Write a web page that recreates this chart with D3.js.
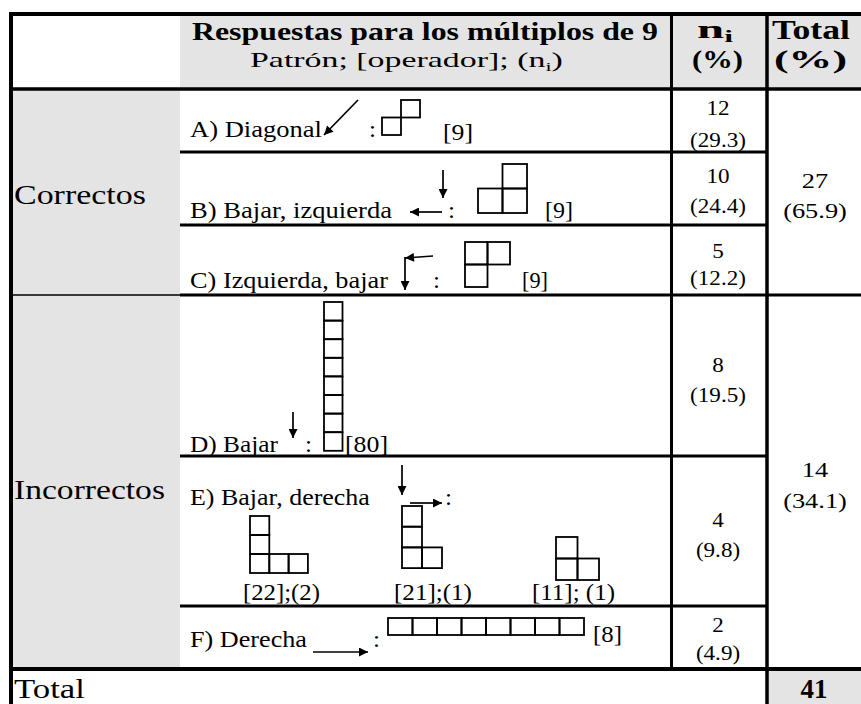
<!DOCTYPE html>
<html><head><meta charset="utf-8">
<script src="https://cdn.jsdelivr.net/npm/d3@7"></script>
<style>html,body{margin:0;padding:0;background:#fff;} svg{display:block;}</style>
</head><body><svg id="chart" width="861" height="704"></svg>
<script>
// ---------------- DATA ----------------
const headerTitle = "Respuestas para los múltiplos de 9";
const headerSub = ["Patrón; [operador]; (n", "i", ")"];
const headerN = ["n", "i"];
const headerPct = "(%)";
const headerTotal = "Total";
const groups = ["Correctos", "Incorrectos"];
const groupCounts = [27, 14];
const groupPercents = [65.9, 34.1];
const responses = ["A) Diagonal", "B) Bajar, izquierda", "C) Izquierda, bajar", "D) Bajar", "E) Bajar, derecha", "F) Derecha"];
const operators = ["[9]", "[9]", "[9]", "[80]", "", "[8]"];
const counts = [12, 10, 5, 8, 4, 2];
const percents = [29.3, 24.4, 12.2, 19.5, 9.8, 4.9];
const eVariantLabels = ["[22];(2)", "[21];(1)", "[11]; (1)"];
const totalLabel = "Total";
const grandTotal = 41;
// patterns (grid cells [col,row])
const patternA = [[0,1],[1,0]];
const patternB = [[0,1],[1,1],[1,0]];
const patternC = [[0,0],[1,0],[0,1]];
const patternD = [[0,0],[0,1],[0,2],[0,3],[0,4],[0,5],[0,6],[0,7]];
const patternE1 = [[0,0],[0,1],[0,2],[1,2],[2,2]];
const patternE2 = [[0,0],[0,1],[0,2],[1,2]];
const patternE3 = [[0,0],[0,1],[1,1]];
const patternF = [[0,0],[1,0],[2,0],[3,0],[4,0],[5,0],[6,0],[7,0]];

// ---------------- LAYOUT ----------------
const FONT = "'Liberation Serif','Times New Roman',Times,serif";
const GRAY = "#e4e4e4";
const X = {left: 11, cat: 180, n: 671.5, tot: 767, right: 861};
const Y = {top: 14, head: 89, bottom: 704};
const rowEdges = [89, 152, 225, 295, 456, 606, 669];

const svg = d3.select("#chart");
const fmtPct = d3.format(".1f");

svg.append("defs").append("marker")
  .attr("id", "ah").attr("viewBox", "0 0 10 10").attr("refX", 10).attr("refY", 5)
  .attr("markerWidth", 11).attr("markerHeight", 9).attr("markerUnits", "userSpaceOnUse")
  .attr("orient", "auto")
  .append("path").attr("d", "M0,0 L10,5 L0,10 z").attr("fill", "#000");

// backgrounds
const bg = svg.append("g");
bg.append("rect").attr("x", X.cat).attr("y", Y.top).attr("width", X.right - X.cat).attr("height", Y.head - Y.top).attr("fill", GRAY);
bg.append("rect").attr("x", X.left).attr("y", Y.head).attr("width", X.cat - X.left).attr("height", rowEdges[6] - Y.head).attr("fill", GRAY);
bg.append("rect").attr("x", X.tot).attr("y", rowEdges[6]).attr("width", X.right - X.tot).attr("height", Y.bottom - rowEdges[6]).attr("fill", GRAY);

const tg = svg.append("g");
function txt(content, o) {
  const t = tg.append("text").attr("font-family", FONT).attr("font-size", o.size)
    .attr("font-weight", o.weight || "normal").attr("fill", "#000");
  const parts = Array.isArray(content) ? content : [content];
  const sh = o.subShift || 0.22;
  parts.forEach((p, i) => {
    const ts = t.append("tspan").text(p);
    if (o.subIndex === i) ts.attr("font-size", o.size * 0.65).attr("dy", o.size * sh);
    else if (o.subIndex === i - 1) ts.attr("dy", -o.size * sh);
  });
  const w = t.node().getComputedTextLength();
  if (o.x1 !== undefined) {
    const sx = (o.x1 - o.x0) / w;
    t.attr("transform", `translate(${o.x0},${o.y}) scale(${sx},1)`);
  } else if (o.cx !== undefined) {
    t.attr("text-anchor", "middle").attr("transform", `translate(${o.cx},${o.y}) scale(${o.sx || 1},1)`);
  } else {
    t.attr("transform", `translate(${o.x0},${o.y}) scale(${o.sx || 1},1)`);
  }
  return t;
}

// header
txt(headerTitle, {x0: 192, x1: 658, y: 40, size: 25, weight: "bold"});
txt(headerSub, {x0: 250, x1: 563, y: 67, size: 20, subIndex: 1});
txt(headerN, {x0: 697, x1: 733, y: 38, size: 26, weight: "bold", subIndex: 1, subShift: 0.14});
txt(headerPct, {x0: 692, x1: 743, y: 68, size: 26, weight: "bold"});
txt(headerTotal, {x0: 772, x1: 850, y: 39, size: 27, weight: "bold"});
txt(headerPct, {x0: 774, x1: 847, y: 68, size: 26, weight: "bold"});

// group labels
txt(groups[0], {x0: 14, x1: 146, y: 204, size: 28});
txt(groups[1], {x0: 14, x1: 165, y: 499, size: 28});
txt(totalLabel, {x0: 14, x1: 85, y: 698, size: 27});

// response labels
const labelPos = [
  {x1: 322, y: 137}, {x1: 392, y: 218}, {x1: 388, y: 288},
  {x1: 278, y: 452}, {x1: 370, y: 505}, {x1: 307, y: 647}];
responses.forEach((r, i) => txt(r, {x0: 190, x1: labelPos[i].x1, y: labelPos[i].y, size: 23}));
const colonX = [369, 448, 433, 305, 445, 373];
colonX.forEach((cx, i) => txt(":", {x0: cx, y: labelPos[i].y, size: 23, sx: 1.1}));
const opPos = [
  {x0: 443, x1: 473, y: 140}, {x0: 545, x1: 573, y: 218}, {x0: 522, x1: 548, y: 288},
  {x0: 345, x1: 388, y: 452}, null, {x0: 593, x1: 622, y: 642}];
operators.forEach((op, i) => { if (op && opPos[i]) txt(op, {x0: opPos[i].x0, x1: opPos[i].x1, y: opPos[i].y, size: 23}); });
const ePos = [{x0: 243, x1: 320}, {x0: 394, x1: 472}, {x0: 532, x1: 615}];
eVariantLabels.forEach((l, i) => txt(l, {x0: ePos[i].x0, x1: ePos[i].x1, y: 600, size: 23}));

// n column
const nCx = 718;
const countY = [115, 183, 258, 372, 527, 632];
const pctY = [147, 213, 285, 402, 557, 660];
counts.forEach((c, i) => txt(String(c), {cx: nCx, y: countY[i], size: 22, sx: 1.05}));
percents.forEach((p, i) => txt(`(${fmtPct(p)})`, {cx: nCx, y: pctY[i], size: 22, sx: 1.05}));

// total column
const tCx = 815;
const gCountY = [188, 477], gPctY = [218, 508];
groupCounts.forEach((c, i) => txt(String(c), {cx: tCx, y: gCountY[i], size: 22, sx: 1.2}));
groupPercents.forEach((p, i) => txt(`(${fmtPct(p)})`, {cx: tCx, y: gPctY[i], size: 22, sx: 1.2}));
txt(String(grandTotal), {cx: 814, y: 698, size: 27, weight: "bold", sx: 1.0});

// square patterns
const shapes = [
  {cells: patternA, x: 382, y: 100, w: 19, h: 17.5},
  {cells: patternB, x: 478, y: 164, w: 24.5, h: 24.5},
  {cells: patternC, x: 465, y: 242, w: 22.5, h: 22.5},
  {cells: patternD, x: 324, y: 302, w: 18.5, h: 18.6},
  {cells: patternE1, x: 250, y: 516, w: 19.3, h: 19},
  {cells: patternE2, x: 402, y: 506, w: 20, h: 20.7},
  {cells: patternE3, x: 556, y: 537, w: 21.5, h: 21.5},
  {cells: patternF, x: 388, y: 618, w: 24.5, h: 17}
];
const sg = svg.append("g").attr("fill", "none").attr("stroke", "#000").attr("stroke-width", 1.8);
shapes.forEach(s => {
  const sxs = d3.scaleLinear().domain([0, 1]).range([s.x, s.x + s.w]);
  const sys = d3.scaleLinear().domain([0, 1]).range([s.y, s.y + s.h]);
  sg.append("g").selectAll("rect").data(s.cells).join("rect")
    .attr("x", d => sxs(d[0])).attr("y", d => sys(d[1]))
    .attr("width", s.w).attr("height", s.h);
});

// arrows
const arrows = [
  [358, 100, 324, 135],
  [443, 170, 443, 198], [442, 212, 410, 212],
  [433, 256, 405, 258], [405, 257, 405, 290],
  [293, 412, 293, 438],
  [402, 465, 402, 495], [410, 503, 442, 503],
  [313, 652, 368, 652]
];
svg.append("g").selectAll("line").data(arrows).join("line")
  .attr("x1", d => d[0]).attr("y1", d => d[1]).attr("x2", d => d[2]).attr("y2", d => d[3])
  .attr("stroke", "#000").attr("stroke-width", 1.7).attr("marker-end", "url(#ah)");

// grid lines
const lines = [
  [9, Y.top, X.right, Y.top, 4],
  [X.left, 12, X.left, Y.bottom, 4],
  [X.left, Y.head, X.right, Y.head, 3.5],
  [X.n, Y.top, X.n, rowEdges[6], 3],
  [X.tot, Y.top, X.tot, Y.bottom, 3.5],
  [X.cat, rowEdges[1], X.tot, rowEdges[1], 3],
  [X.cat, rowEdges[2], X.tot, rowEdges[2], 3],
  [X.cat, rowEdges[3], X.right, rowEdges[3], 3],
  [X.left, rowEdges[3], X.cat, rowEdges[3], 1.5],
  [X.cat, rowEdges[4], X.tot, rowEdges[4], 3],
  [X.cat, rowEdges[5], X.tot, rowEdges[5], 3],
  [9, rowEdges[6], X.right, rowEdges[6], 4]
];
svg.append("g").selectAll("line").data(lines).join("line")
  .attr("x1", d => d[0]).attr("y1", d => d[1]).attr("x2", d => d[2]).attr("y2", d => d[3])
  .attr("stroke", "#000").attr("stroke-width", d => d[4]);
</script></body></html>
